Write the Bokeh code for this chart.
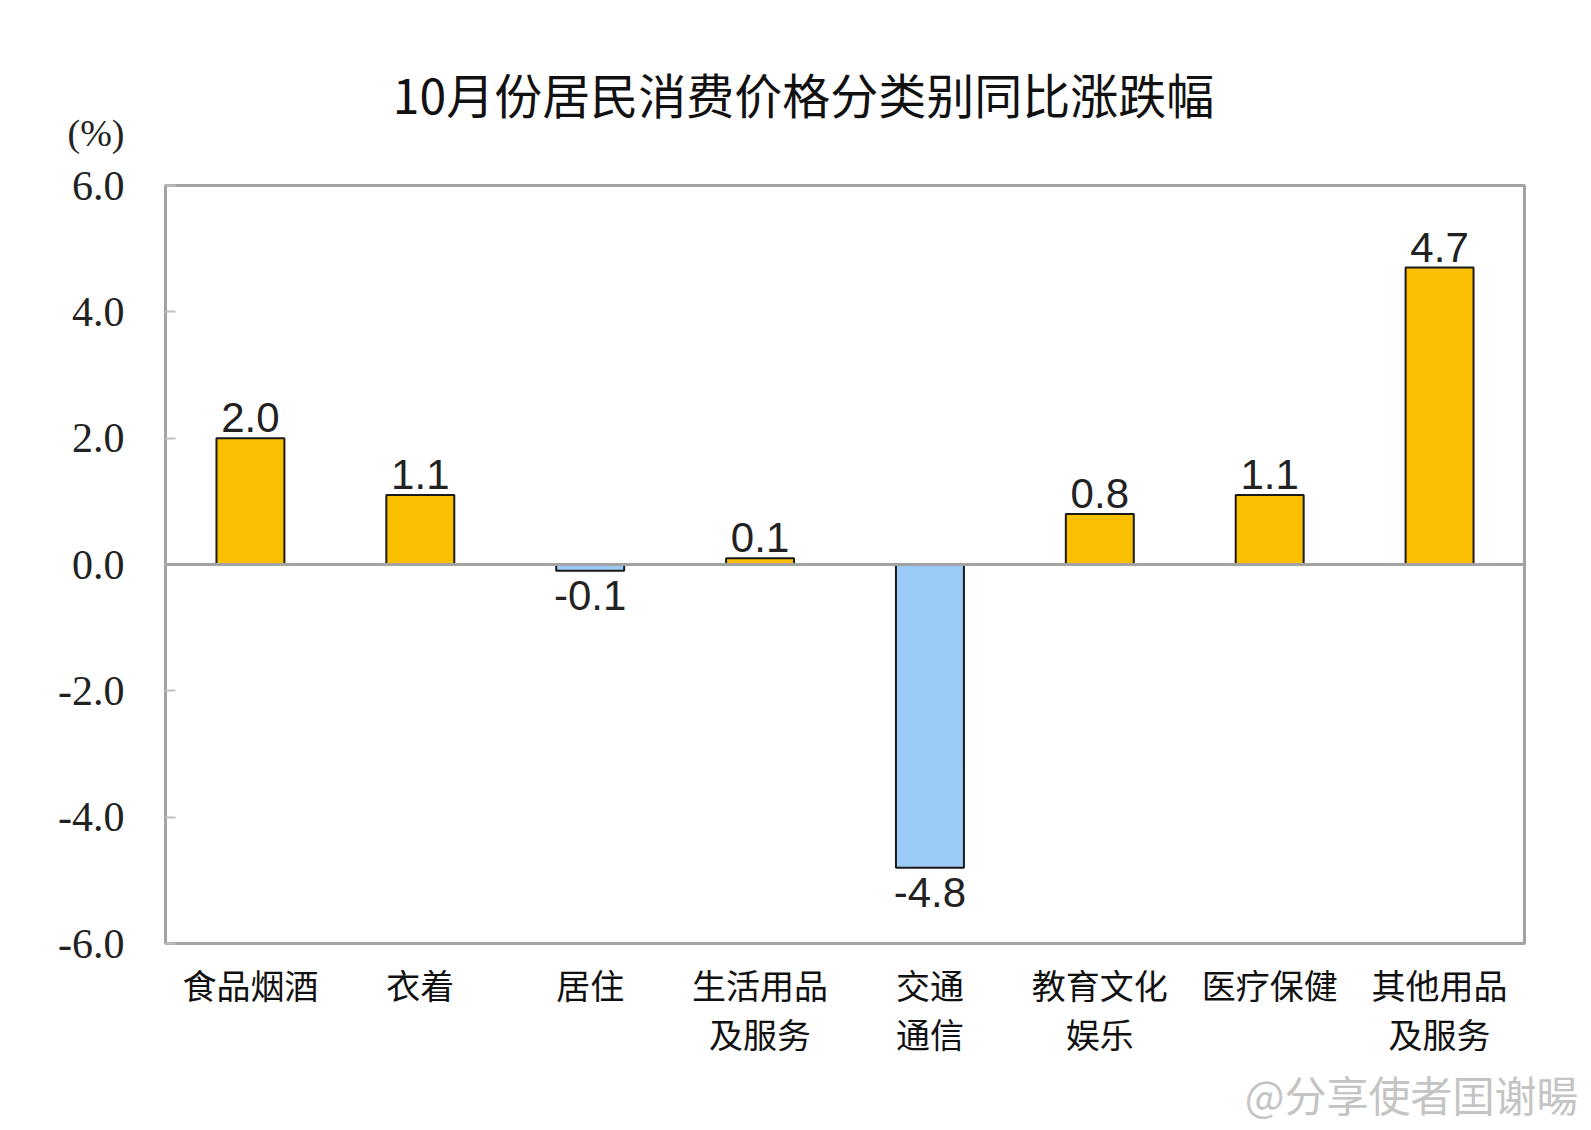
from bokeh.plotting import figure
from bokeh.layouts import column
from bokeh.models import (ColumnDataSource, LabelSet, Span, FixedTicker, FactorRange, Range1d,
                          Title, CategoricalAxis, CustomJSTickFormatter, LinearAxis)
from bokeh.core.properties import value
from bokeh.embed import file_html
from bokeh.resources import INLINE

# ---- data ----
categories = ["食品烟酒", "衣着", "居住", "生活用品及服务", "交通通信", "教育文化娱乐", "医疗保健", "其他用品及服务"]
label_line1 = ["食品烟酒", "衣着", "居住", "生活用品", "交通", "教育文化", "医疗保健", "其他用品"]
label_line2 = ["", "", "", "及服务", "通信", "娱乐", "", "及服务"]
values = [2.0, 1.1, -0.1, 0.1, -4.8, 0.8, 1.1, 4.7]
y_ticks = [-6, -4, -2, 0, 2, 4, 6]
y_tick_labels = ["-6.0", "-4.0", "-2.0", "0.0", "2.0", "4.0", "6.0"]
title_text = "10月份居民消费价格分类别同比涨跌幅"
unit_text = "(%)"
watermark_text = "@分享使者囯谢暘"

POS_COLOR = "#FAC000"
NEG_COLOR = "#9DCBF7"
GRID_GRAY = "#A3A3A3"

W = 1591
HEADER_H = 160
TOTAL_H = 1130
FRAME_L = 165
FRAME_R = 1524

colors = [POS_COLOR if v >= 0 else NEG_COLOR for v in values]
value_texts = ["%.1f" % v for v in values]

# ---- header (title and unit); its frame is aligned with the chart frame ----
header = figure(width=W, height=HEADER_H, x_range=Range1d(FRAME_L, FRAME_R), y_range=Range1d(HEADER_H, 0),
                output_backend="svg", toolbar_location=None, tools="",
                x_axis_type=None, y_axis_type=None,
                min_border_left=FRAME_L, min_border_right=W - FRAME_R, min_border_top=0, min_border_bottom=0)
header.outline_line_color = None
header.background_fill_color = "white"
header.border_fill_color = "white"
header.xgrid.grid_line_color = None
header.ygrid.grid_line_color = None
hsrc = ColumnDataSource(dict(x=[803], y=[92], t=[title_text]))
header.text(x="x", y="y", text="t", source=hsrc, text_align="center", text_baseline="middle",
            text_font=value("Noto Sans CJK SC"), text_font_size="48px", text_color="#111111")
# unit label as a single tick label of a left axis
unit_axis = LinearAxis(ticker=FixedTicker(ticks=[132]), major_label_overrides={132: unit_text})
unit_axis.axis_line_color = None
unit_axis.major_tick_line_color = None
unit_axis.minor_tick_line_color = None
unit_axis.major_label_standoff = 35
unit_axis.major_label_text_font = "Liberation Serif"
unit_axis.major_label_text_font_size = "38px"
unit_axis.major_label_text_color = "#222222"
header.add_layout(unit_axis, "left")

# ---- main chart ----
src = ColumnDataSource(dict(x=categories, top=values, color=colors))
pos_idx = [i for i, v in enumerate(values) if v >= 0]
neg_idx = [i for i, v in enumerate(values) if v < 0]
pos_src = ColumnDataSource(dict(x=[categories[i] for i in pos_idx], y=[values[i] for i in pos_idx],
                                label=[value_texts[i] for i in pos_idx]))
neg_src = ColumnDataSource(dict(x=[categories[i] for i in neg_idx], y=[values[i] for i in neg_idx],
                                label=[value_texts[i] for i in neg_idx]))

p = figure(width=W, height=TOTAL_H - HEADER_H, x_range=FactorRange(*categories), y_range=Range1d(-6, 6),
           output_backend="svg", toolbar_location=None, tools="",
           min_border_left=FRAME_L, min_border_right=W - FRAME_R, min_border_top=185 - HEADER_H,
           min_border_bottom=187)
p.background_fill_color = "white"
p.border_fill_color = "white"
p.outline_line_color = GRID_GRAY
p.outline_line_width = 3
p.xgrid.grid_line_color = None
p.ygrid.grid_line_color = None

p.vbar(x="x", top="top", bottom=0, width=0.40, source=src, fill_color="color",
       line_color="#1a1a1a", line_width=2)

p.add_layout(Span(location=0, dimension="width", line_color=GRID_GRAY, line_width=3))

# y axis
p.yaxis.ticker = FixedTicker(ticks=y_ticks)
p.yaxis.major_label_overrides = {t: l for t, l in zip(y_ticks, y_tick_labels)}
p.yaxis.axis_line_color = None
p.yaxis.major_tick_in = 10
p.yaxis.major_tick_out = 0
p.yaxis.major_tick_line_color = "#C0C0C0"
p.yaxis.major_tick_line_width = 2
p.yaxis.minor_tick_line_color = None
p.yaxis.major_label_standoff = 41
p.yaxis.major_label_text_font = "Liberation Serif"
p.yaxis.major_label_text_font_size = "42px"
p.yaxis.major_label_text_color = "#222222"

# x axes: two stacked axes, one per label line
def style_xaxis(ax, standoff):
    ax.axis_line_color = None
    ax.major_tick_line_color = None
    ax.minor_tick_line_color = None
    ax.major_label_standoff = standoff
    ax.major_label_text_font = "Noto Sans CJK SC"
    ax.major_label_text_font_size = "34px"
    ax.major_label_text_color = "#111111"

xa1 = p.xaxis[0]
xa1.formatter = CustomJSTickFormatter(args=dict(names=categories, lines=label_line1),
                                      code="return lines[names.indexOf(tick)];")
style_xaxis(xa1, 10)
xa2 = CategoricalAxis(formatter=CustomJSTickFormatter(args=dict(names=categories, lines=label_line2),
                                                      code="return lines[names.indexOf(tick)];"))
style_xaxis(xa2, -9)
p.add_layout(xa2, "below")

# value labels
p.add_layout(LabelSet(x="x", y="y", text="label", source=pos_src, y_offset=6,
                      text_align="center", text_baseline="bottom",
                      text_font=value("Liberation Sans"), text_font_size="42px", text_color="#222222"))
p.add_layout(LabelSet(x="x", y="y", text="label", source=neg_src, y_offset=-10,
                      text_align="center", text_baseline="top",
                      text_font=value("Liberation Sans"), text_font_size="42px", text_color="#222222"))

# watermark below
wm = Title(text=watermark_text, align="right", offset=-54, standoff=0,
           text_font="Noto Sans CJK SC", text_font_size="42px", text_font_style="normal",
           text_color="#C4C4C4")
p.add_layout(wm, "below")

layout = column(header, p, spacing=0)
open("out.html", "w").write(file_html(layout, INLINE))
